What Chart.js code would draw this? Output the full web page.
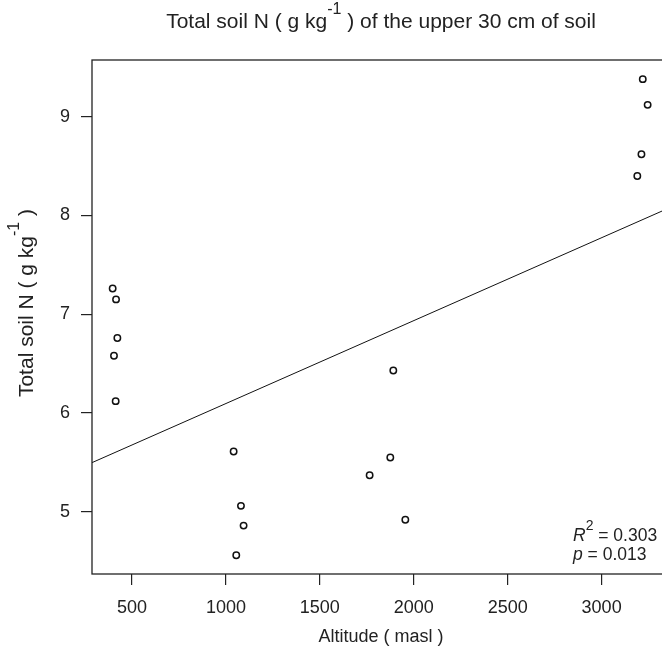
<!DOCTYPE html>
<html>
<head>
<meta charset="utf-8">
<script src="https://cdn.jsdelivr.net/npm/chart.js@4.4.1/dist/chart.umd.min.js"></script>
<style>
  html, body { margin: 0; padding: 0; background: #fff; overflow: hidden; }
  #wrap { width: 700px; height: 652px; }
</style>
</head>
<body>
<div id="wrap"><canvas id="myChart" width="700" height="652"></canvas></div>
<script>
// altitude (masl) and total soil N (g/kg) for each plot, same order
var altitude = [397, 415, 422, 404, 413, 1041, 1080, 1094, 1055, 1765, 1875, 1891, 1955, 3190, 3212, 3219, 3245];
var soilN = [7.26, 7.15, 6.76, 6.58, 6.12, 5.61, 5.06, 4.86, 4.56, 5.37, 5.55, 6.43, 4.92, 8.40, 8.62, 9.38, 9.12];

var xTicks = [500, 1000, 1500, 2000, 2500, 3000];
var yTicks = [5, 6, 7, 8, 9];
var xRange = [287, 3364];
var yRange = [4.37, 9.574];

var r2Text = "0.303";
var pText = "0.013";

var ink = "#222";
var family = '"Liberation Sans", Arial, sans-serif';

// least squares fit of N on altitude
var n = altitude.length, mx = 0, my = 0;
for (var i = 0; i < n; i++) { mx += altitude[i]; my += soilN[i]; }
mx /= n; my /= n;
var sxy = 0, sxx = 0;
for (var i = 0; i < n; i++) {
  sxy += (altitude[i] - mx) * (soilN[i] - my);
  sxx += (altitude[i] - mx) * (altitude[i] - mx);
}
var slope = sxy / sxx;
var intercept = my - slope * mx;

var points = altitude.map(function(x, i) { return { x: x, y: soilN[i] }; });
var fitLine = xRange.map(function(x) { return { x: x, y: intercept + slope * x }; });

// text with superscript / italic pieces: [text, style]
function fontFor(style, size) {
  if (style === "sup") return Math.round(size * 0.78) + "px " + family;
  if (style === "it") return "italic " + size + "px " + family;
  return size + "px " + family;
}

function drawRich(ctx, parts, x, y, size, align) {
  var widths = parts.map(function(p) {
    ctx.font = fontFor(p[1], size);
    return ctx.measureText(p[0]).width;
  });
  var total = widths.reduce(function(a, b) { return a + b; }, 0);
  var cx = align === "center" ? x - total / 2 : x;
  ctx.textAlign = "left";
  ctx.textBaseline = "middle";
  parts.forEach(function(p, i) {
    ctx.font = fontFor(p[1], size);
    ctx.fillText(p[0], cx, p[1] === "sup" ? y - size * 0.58 : y);
    cx += widths[i];
  });
}

var decorations = {
  id: "decorations",
  afterDraw: function(chart) {
    var ctx = chart.ctx, a = chart.chartArea;
    var midX = (a.left + a.right) / 2;
    ctx.save();
    ctx.strokeStyle = ink;
    ctx.lineWidth = 1.3;
    ctx.strokeRect(a.left, a.top, a.right - a.left, a.bottom - a.top);

    ctx.fillStyle = ink;
    drawRich(ctx, [["Total soil N ( g kg", ""], ["-1", "sup"], [" ) of the upper 30 cm of soil", ""]], midX, 22, 21, "center");
    drawRich(ctx, [["Altitude ( masl )", ""]], midX, 637, 18, "center");

    ctx.save();
    ctx.translate(27, 303);
    ctx.rotate(-Math.PI / 2);
    drawRich(ctx, [["Total soil N ( g kg", ""], ["-1", "sup"], [" )", ""]], 0, 0, 21, "center");
    ctx.restore();

    drawRich(ctx, [["R", "it"], ["2", "sup"], [" = " + r2Text, ""]], 573, 536, 17.5, "left");
    drawRich(ctx, [["p", "it"], [" = " + pText, ""]], 573, 555, 17.5, "left");
    ctx.restore();
  }
};

var ctx = document.getElementById("myChart");

var chart = new Chart(ctx, {
  type: "scatter",
  data: {
    datasets: [
      {
        data: points,
        pointStyle: "circle",
        pointRadius: 3.2,
        borderWidth: 1.5,
        borderColor: "#111",
        backgroundColor: "rgba(0,0,0,0)"
      },
      {
        type: "line",
        data: fitLine,
        borderColor: "#111",
        borderWidth: 1,
        pointRadius: 0,
        fill: false
      }
    ]
  },
  options: {
    responsive: false,
    animation: false,
    layout: { padding: { top: 60, right: 30, left: 0, bottom: 0 } },
    plugins: {
      legend: { display: false },
      tooltip: { enabled: false }
    },
    scales: {
      x: {
        type: "linear",
        min: xRange[0],
        max: xRange[1],
        afterBuildTicks: function(s) { s.ticks = xTicks.map(function(v) { return { value: v }; }); },
        afterFit: function(s) { s.height = 78; },
        border: { display: false },
        grid: { drawOnChartArea: false, drawTicks: true, tickLength: 11, color: ink, lineWidth: 1.2 },
        ticks: {
          padding: 12, color: ink, font: { family: family, size: 18 }, maxRotation: 0, autoSkip: false,
          callback: function(v) { return String(v); }
        }
      },
      y: {
        type: "linear",
        min: yRange[0],
        max: yRange[1],
        afterBuildTicks: function(s) { s.ticks = yTicks.map(function(v) { return { value: v }; }); },
        afterFit: function(s) { s.width = 92; },
        border: { display: false },
        grid: { drawOnChartArea: false, drawTicks: true, tickLength: 11, color: ink, lineWidth: 1.2 },
        ticks: {
          padding: 11, color: ink, font: { family: family, size: 18 }, autoSkip: false,
          callback: function(v) { return String(v); }
        }
      }
    }
  },
  plugins: [decorations]
});
</script>
</body>
</html>
